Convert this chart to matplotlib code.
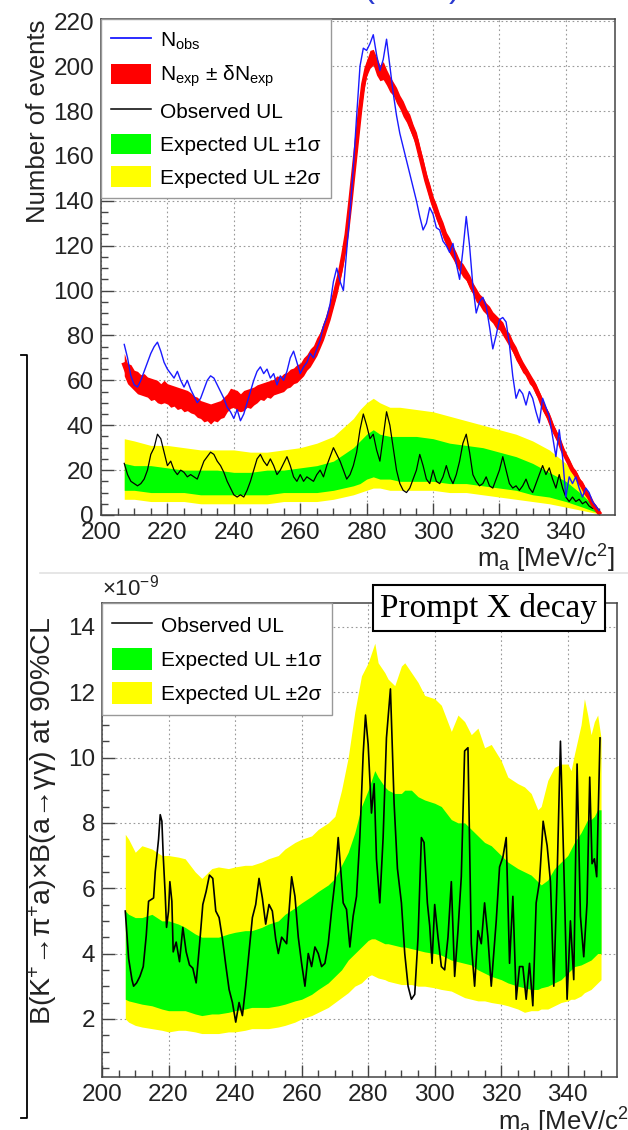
import numpy as np
import matplotlib
matplotlib.use("Agg")
import matplotlib.pyplot as plt
from matplotlib.lines import Line2D
from matplotlib.patches import Patch
from matplotlib.ticker import MultipleLocator

plt.rcParams['font.family'] = ['Liberation Sans', 'DejaVu Sans']
plt.rcParams['mathtext.fontset'] = 'custom'
plt.rcParams['mathtext.rm'] = 'Liberation Sans'
plt.rcParams['mathtext.it'] = 'Liberation Sans:italic'
plt.rcParams['mathtext.default'] = 'regular'

# ---------------- top panel: number of events (1 MeV steps, 207..350) ----------------
ma = np.arange(207, 351)

nobs = [76, 70, 62, 58, 57, 60, 64, 68, 72, 75,
        77, 73, 68, 65, 63, 61, 64, 60, 57, 60,
        56, 53, 50, 52, 56, 60, 62, 61, 58, 55,
        52, 48, 46, 43, 47, 42, 45, 50, 55, 60,
        64, 66, 63, 65, 61, 63, 58, 62, 60, 64,
        70, 73, 68, 63, 66, 68, 72, 70, 74, 78,
        84, 88, 94, 104, 110, 104, 100, 118, 135, 155,
        178, 200, 208, 207, 210, 214, 205, 198, 203, 212,
        200, 188, 178, 170, 164, 158, 152, 146, 140, 133,
        127, 130, 137, 134, 128, 127, 122, 120, 117, 121,
        112, 105, 118, 133, 120, 102, 90, 95, 97, 93,
        84, 74, 80, 87, 88, 86, 76, 62, 52, 56,
        54, 49, 55, 52, 46, 41, 52, 48, 44, 35,
        26, 38, 26, 8, 17, 14, 17, 12, 8, 12,
        10, 6, 4, 2]

nexp = [67, 63, 62, 60, 59, 58, 58, 57, 56, 56,
        55, 54, 55, 54, 53, 53, 52, 52, 51, 51,
        50, 49, 48, 47, 46, 46, 45, 46, 46, 47,
        48, 50, 52, 52, 51, 50, 51, 52, 52, 53,
        54, 55, 55, 56, 56, 57, 58, 58, 59, 60,
        61, 62, 63, 64, 66, 68, 70, 72, 75, 78,
        82, 86, 91, 96, 102, 108, 116, 125, 138, 152,
        166, 180, 192, 199, 203, 204, 200, 197, 198, 195,
        192, 190, 187, 184, 181, 178, 175, 171, 167, 161,
        155, 149, 144, 139, 135, 131, 127, 123, 120, 117,
        114, 111, 109, 107, 104, 101, 98, 96, 94, 92,
        90, 88, 86, 85, 83, 80, 78, 75, 72, 69,
        66, 64, 61, 59, 56, 53, 49, 46, 43, 39,
        36, 33, 29, 26, 23, 20, 18, 15, 13, 10,
        8, 5, 3, 1]

nexp_err = ([5.0, 4.5] * 10 + [4.5, 4.0] * 10 + [4.0, 3.5] * 20 + [3.5, 3.0] * 10
            + [3.0, 2.5] * 10 + [2.5, 2.0] * 5 + [2.0, 1.5] * 5 + [1.5, 1.0] * 2)

ul_top = [23, 18, 15, 14, 13, 14, 16, 20, 27, 30,
          36, 34, 28, 22, 24, 20, 18, 20, 19, 17,
          18, 17, 16, 20, 24, 26, 28, 27, 24, 22,
          19, 15, 12, 9, 8, 9, 8, 11, 15, 20,
          25, 27, 24, 22, 25, 22, 18, 20, 23, 26,
          22, 17, 15, 18, 15, 17, 16, 15, 18, 20,
          17, 22, 26, 30, 27, 24, 20, 16, 18, 22,
          28, 38, 45, 40, 34, 36, 29, 24, 35, 46,
          40, 30, 20, 14, 11, 10, 12, 16, 20, 27,
          22, 16, 14, 20, 15, 14, 17, 22, 17, 14,
          18, 24, 32, 36, 28, 18, 15, 13, 14, 17,
          13, 12, 16, 20, 26, 20, 14, 12, 13, 11,
          13, 16, 12, 10, 14, 18, 22, 18, 21, 16,
          12, 18, 12, 8, 6, 8, 6, 7, 5, 6,
          4, 3, 3, 2]

# expected UL bands (top panel)
xb1 = [207, 210, 215, 220, 225, 230, 235, 240, 245, 250, 255, 260, 265, 270, 273, 276, 278,
       280, 282, 284, 287, 290, 295, 300, 305, 310, 315, 320, 325, 330, 335, 340, 345, 350]
y2hi1 = [34, 33, 31, 31, 30, 29, 29, 29, 28, 28, 29, 30, 32, 35, 39, 43, 47,
         50, 52, 50, 48, 48, 47, 46, 44, 42, 40, 38, 36, 33, 29, 23, 13, 2]
y1hi1 = [23, 22, 22, 21, 20, 20, 20, 19, 19, 20, 20, 21, 22, 24, 27, 30, 33,
         36, 38, 36, 35, 35, 35, 34, 32, 31, 30, 28, 26, 23, 19, 15, 9, 1.5]
y1lo1 = [11, 11, 10, 10, 10, 9, 9, 9, 9, 9, 10, 10, 10, 11, 12, 13, 14,
         16, 17, 16, 16, 15, 15, 15, 14, 14, 13, 12, 11, 9, 8, 6, 3.5, 0.8]
y2lo1 = [7, 7, 6, 6, 6, 5, 5, 5, 5, 5, 6, 6, 6, 7, 8, 9, 10,
         11, 12, 12, 11, 11, 11, 11, 10, 10, 9, 8, 7, 6, 5, 3.5, 2, 0.5]

# ---------------- bottom panel: branching ratio UL (units of 1e-9) ----------------
xb2 = [207, 208, 210, 212, 215, 218, 220, 223, 225, 228,
       230, 233, 235, 238, 240, 243, 245, 248, 250, 253,
       255, 258, 260, 263, 265, 268, 270, 272, 274, 276,
       278, 280, 281, 282, 283, 285, 286, 288, 290, 291,
       293, 295, 297, 300, 302, 305, 307, 309, 311, 313,
       315, 317, 320, 322, 325, 327, 329, 331, 332, 334,
       336, 338, 340, 341, 342, 344, 345, 346, 347, 348,
       349, 350]
y2hi2 = [7.65, 7.5, 7.1, 7.3, 7.2, 7.0, 7.0, 6.95, 6.9, 6.5,
         6.3, 6.6, 6.65, 6.6, 6.65, 6.7, 6.7, 6.8, 6.9, 7.0,
         7.2, 7.4, 7.5, 7.6, 7.8, 8.0, 8.2, 9.0, 10.0, 11.4,
         12.5, 12.9, 13.2, 13.5, 12.9, 12.6, 12.4, 12.2, 12.8, 12.9,
         12.6, 12.3, 11.9, 11.8, 11.6, 10.8, 11.3, 11.1, 10.7, 10.9,
         10.3, 10.4, 9.9, 9.4, 9.2, 9.1, 8.9, 8.4, 8.5, 9.3,
         9.7, 9.8, 9.8, 9.6, 10.1, 11.0, 11.8, 11.3, 10.7, 11.1,
         11.3, 10.6]
y1hi2 = [5.3, 5.2, 5.1, 5.1, 5.2, 5.0, 5.0, 4.9, 4.8, 4.6,
         4.5, 4.5, 4.5, 4.6, 4.65, 4.7, 4.7, 4.8, 4.9, 5.0,
         5.2, 5.4, 5.55, 5.75, 5.9, 6.1, 6.3, 6.7, 7.1, 7.7,
         8.5, 9.0, 9.3, 9.6, 9.4, 9.1, 9.0, 8.9, 8.9, 9.0,
         9.0, 8.8, 8.7, 8.6, 8.5, 8.1, 8.0, 8.0, 7.8, 7.6,
         7.4, 7.3, 7.0, 6.8, 6.6, 6.5, 6.4, 6.2, 6.1, 6.25,
         6.6, 6.8, 7.0, 7.2, 7.4, 7.7, 7.9, 8.1, 8.1, 8.2,
         8.4, 8.4]
y1lo2 = [2.6, 2.55, 2.5, 2.45, 2.4, 2.3, 2.25, 2.25, 2.25, 2.15,
         2.1, 2.15, 2.15, 2.2, 2.25, 2.3, 2.35, 2.35, 2.35, 2.4,
         2.45, 2.55, 2.6, 2.75, 2.9, 3.1, 3.3, 3.5, 3.8, 4.0,
         4.2, 4.4, 4.45, 4.45, 4.4, 4.3, 4.3, 4.25, 4.2, 4.2,
         4.15, 4.1, 4.05, 4.0, 3.95, 3.8, 3.75, 3.7, 3.65, 3.5,
         3.4, 3.3, 3.2, 3.1, 3.0, 2.95, 2.9, 2.9, 2.95, 3.0,
         3.1, 3.2, 3.4, 3.5, 3.6, 3.65, 3.7, 3.75, 3.8, 3.9,
         4.0, 4.0]
y2lo2 = [2.0, 1.9, 1.8, 1.75, 1.7, 1.65, 1.6, 1.65, 1.65, 1.6,
         1.55, 1.55, 1.55, 1.6, 1.6, 1.65, 1.7, 1.7, 1.7, 1.75,
         1.8, 1.9, 2.0, 2.1, 2.2, 2.35, 2.5, 2.65, 2.8, 3.0,
         3.1, 3.3, 3.35, 3.3, 3.25, 3.2, 3.15, 3.1, 3.05, 3.05,
         3.05, 3.0, 3.0, 2.95, 2.9, 2.85, 2.75, 2.65, 2.6, 2.55,
         2.55, 2.5, 2.45, 2.4, 2.3, 2.2, 2.25, 2.25, 2.3, 2.3,
         2.4, 2.5, 2.55, 2.6, 2.6, 2.7, 2.8, 2.85, 2.9, 3.0,
         3.1, 3.2]

# observed UL, (m_a, value) pairs
ul_prompt = [
    (207, 5.3), (208, 3.85), (209, 3.2), (209.5, 3.0), (210.4, 3.1), (211.4, 3.3),
    (212.4, 3.6), (213.3, 4.55), (214, 5.6), (215.5, 5.7), (216, 6.5), (216.4, 6.9),
    (217, 7.5), (217.5, 8.25), (218, 8.05), (218.4, 7.0), (219, 5.8), (219.4, 4.8),
    (220, 5.3), (220.4, 6.2), (221, 5.6), (221.4, 4.05), (222.3, 4.35), (223.3, 3.75),
    (224.3, 4.8), (225.3, 4.05), (226.3, 3.65), (227.3, 3.55), (228.3, 3.1), (229.3, 4.25),
    (230.3, 5.5), (231.3, 5.9), (232.3, 6.4), (233.3, 6.3), (234.2, 5.3), (235.2, 5.1),
    (236.2, 4.45), (237.2, 3.65), (238.2, 2.9), (239.2, 2.5), (240.2, 1.9), (241.2, 2.5),
    (242.2, 2.1), (243.2, 3.0), (244.2, 4.05), (245.2, 5.1), (246.2, 5.5), (247.2, 6.3),
    (248.2, 5.7), (249.2, 4.9), (250.2, 5.5), (251.2, 5.3), (252.2, 4.45), (253, 4.0),
    (254, 4.5), (255.5, 4.3), (257, 6.35), (258, 5.75), (259, 4.5), (260, 3.7),
    (261, 3.0), (262, 4.0), (263, 3.6), (264, 4.2), (265, 4.0), (266, 3.6),
    (267, 3.7), (268, 4.3), (269, 5.3), (270, 6.2), (271, 7.55), (271.5, 6.9),
    (272.5, 5.55), (273.5, 5.35), (274.5, 4.2), (275.5, 5.15), (276.5, 5.75), (277.5, 7.55),
    (278.5, 10.1), (279.2, 11.3), (280, 10.4), (281, 8.3), (281.8, 9.2), (282.5, 6.9),
    (283.5, 5.55), (284.5, 7.55), (285.5, 10.6), (286.7, 12.1), (287.8, 8.6), (288.8, 6.6),
    (290, 5.55), (291, 4.0), (292, 3.0), (293, 2.6), (294, 2.75), (295, 4.5),
    (296, 7.55), (296.8, 7.4), (297.8, 5.55), (298.5, 4.85), (299.2, 3.7), (300, 5.5),
    (301, 4.5), (302, 3.6), (303, 3.5), (304, 4.5), (305, 6.2), (306, 3.3),
    (307, 4.7), (308, 6.35), (309, 10.2), (310, 10.3), (311, 4.3), (312, 3.0),
    (313, 4.7), (314, 4.3), (315, 5.55), (316, 4.5), (317, 3.0), (318.5, 5.0),
    (319.5, 6.65), (320.5, 6.95), (321.5, 7.55), (322.5, 3.7), (323.5, 5.75), (324.5, 2.6),
    (325.5, 3.6), (326.5, 3.6), (327.5, 2.6), (328.5, 3.7), (329.5, 2.4), (330.5, 5.55),
    (331.5, 6.2), (332.6, 8.05), (333.8, 7.3), (334.8, 6.2), (335.8, 3.0), (336.8, 6.35),
    (337.8, 10.5), (338.8, 6.75), (339.8, 2.6), (340.8, 5.0), (341.8, 3.2), (342.8, 9.8),
    (343.8, 5.15), (344.8, 3.9), (345.8, 5.55), (346.6, 9.4), (347.3, 6.75), (348, 6.9),
    (348.7, 6.35), (349.7, 10.6)]

BLUE = '#1a1aff'
GREEN = '#00ff00'
YELLOW = '#ffff00'
W, H = 628.0, 1130.0


def style_axes(ax, ymaj, ymin, ylim):
    ax.set_xlim(200, 354.8)
    ax.set_ylim(*ylim)
    ax.xaxis.set_major_locator(MultipleLocator(20))
    ax.xaxis.set_minor_locator(MultipleLocator(5))
    ax.yaxis.set_major_locator(MultipleLocator(ymaj))
    ax.yaxis.set_minor_locator(MultipleLocator(ymin))
    ax.tick_params(which='both', direction='in', top=False, right=False,
                   labelsize=17.5, color='#444', labelcolor='#222', width=1)
    ax.tick_params(which='major', length=9, pad=5)
    ax.tick_params(which='minor', length=5)
    ax.set_axisbelow(True)
    ax.grid(which='major', color='#999999', linestyle=(0, (1.5, 2.5)), linewidth=0.8)
    for s in ax.spines.values():
        s.set_color('#444')
        s.set_linewidth(1.1)


fig = plt.figure(figsize=(W / 100, H / 100), dpi=100)

# top panel
ax1 = fig.add_axes([101 / W, 1 - 515 / H, 514 / W, 496 / H])
ax1.fill_between(xb1, y2lo1, y2hi1, color=YELLOW, lw=0)
ax1.fill_between(xb1, y1lo1, y1hi1, color=GREEN, lw=0)
ax1.plot(ma, ul_top, color='black', lw=0.9)
lo = np.array(nexp) - np.array(nexp_err)
hi = np.array(nexp) + np.array(nexp_err)
ax1.fill_between(ma, lo, hi, color='red', lw=0)
ax1.plot(ma, nexp, color='red', lw=3.2)
ax1.plot(ma, nobs, color=BLUE, lw=1.0)
style_axes(ax1, 20, 5, (0, 221))

h1 = [Line2D([], [], color=BLUE, lw=1.3), Patch(fc='red'),
      Line2D([], [], color='black', lw=1.1), Patch(fc=GREEN), Patch(fc=YELLOW)]
l1 = ['N$_{obs}$', 'N$_{exp}$ ± δN$_{exp}$', 'Observed UL',
      'Expected UL ±1σ', 'Expected UL ±2σ']
leg1 = ax1.legend(h1, l1, loc='upper left', bbox_to_anchor=(0, 1), borderaxespad=0,
                  fontsize=15, fancybox=False, edgecolor='#999999', framealpha=1,
                  handlelength=1.9, handleheight=1.15, labelspacing=0.55,
                  borderpad=0.5, handletextpad=0.45)
leg1.get_frame().set_linewidth(1)

# bottom panel
ax2 = fig.add_axes([102 / W, 1 - 1077 / H, 515 / W, 474 / H])
ul_x, ul_y = np.array(ul_prompt).T
ax2.fill_between(xb2, y2lo2, y2hi2, color=YELLOW, lw=0)
ax2.fill_between(xb2, y1lo2, y1hi2, color=GREEN, lw=0)
ax2.plot(ul_x, ul_y, color='black', lw=1.2)
style_axes(ax2, 2, 0.5, (0.22, 14.73))

h2 = [Line2D([], [], color='black', lw=1.1), Patch(fc=GREEN), Patch(fc=YELLOW)]
l2 = ['Observed UL', 'Expected UL ±1σ', 'Expected UL ±2σ']
leg2 = ax2.legend(h2, l2, loc='upper left', bbox_to_anchor=(0, 1), borderaxespad=0,
                  fontsize=15, fancybox=False, edgecolor='#999999', framealpha=1,
                  handlelength=1.9, handleheight=1.3, labelspacing=0.55,
                  borderpad=0.5, handletextpad=0.45)
leg2.get_frame().set_linewidth(1)

# labels
fig.text(38 / W, 1 - 20 / H, 'Number of events', rotation=90, ha='center', va='top',
         fontsize=18.5, color='#222')
fig.text(615 / W, 1 - 559 / H, 'm$_{a}$ [MeV/c$^{2}$]', ha='right', va='center',
         fontsize=18.5, color='#222')
fig.text(43 / W, 1 - 617 / H, 'B(K$^{+}$→π$^{+}$a)×B(a→γγ) at 90%CL', rotation=90,
         ha='center', va='top', fontsize=20.5, color='#222')
fig.text(636 / W, 1 - 1122 / H, 'm$_{a}$ [MeV/c$^{2}$]', ha='right', va='center',
         fontsize=18.5, color='#222')
fig.text(102 / W, 1 - 588 / H, '×10$^{-9}$', ha='left', va='center', fontsize=16, color='#222')
fig.text(489 / W, 1 - 608 / H, 'Prompt X decay', ha='center', va='center', fontsize=24,
         family='Liberation Serif',
         bbox=dict(boxstyle='square,pad=0.22', fc='white', ec='black', lw=1.5))

# clipped blue heading at the very top (only the lower edge of the glyphs shows)
fig.text(430 / W, 1 + 3 / H, 'NA62 (2017) 90% CL', ha='center', va='baseline',
         fontsize=24, color='#2a3ad0')

# separator and side bracket
fig.add_artist(Line2D([40 / W, 1.0], [1 - 573 / H] * 2, color='#e2e2e2', lw=1.2,
                      transform=fig.transFigure))
fig.add_artist(Line2D([21 / W, 27 / W, 27 / W, 21 / W],
                      [1 - 355 / H, 1 - 355 / H, 1 - 1118 / H, 1 - 1118 / H],
                      color='black', lw=1.3, transform=fig.transFigure))

fig.savefig('out.png', dpi=100, facecolor='white')
